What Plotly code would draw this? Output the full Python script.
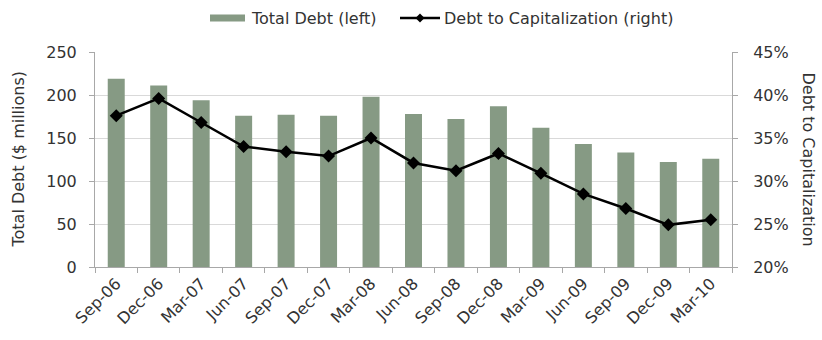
import plotly.graph_objects as go

quarters = ["Sep-06", "Dec-06", "Mar-07", "Jun-07", "Sep-07", "Dec-07", "Mar-08", "Jun-08",
            "Sep-08", "Dec-08", "Mar-09", "Jun-09", "Sep-09", "Dec-09", "Mar-10"]
total_debt = [219, 211, 194, 176, 177, 176, 198, 178, 172, 187, 162, 143, 133, 122, 126]
debt_to_cap = [37.6, 39.6, 36.8, 34.0, 33.4, 32.9, 35.0, 32.1, 31.2, 33.2, 30.9, 28.5, 26.8, 24.9, 25.5]

left_ticks = [0, 50, 100, 150, 200, 250]
right_ticks = [20, 25, 30, 35, 40, 45]
right_labels = [f"{v}%" for v in right_ticks]

font = "DejaVu Sans, Liberation Sans, Arial, sans-serif"
txt = "#333333"
bar_color = "#869a84"

W, H = 822, 340
L, R, T, B = 95, 90, 52, 73
pw, ph = W - L - R, H - T - B


def px(x):
    return (x - L) / pw


def py(y):
    return (H - B - y) / ph


fig = go.Figure()
fig.add_trace(go.Bar(x=quarters, y=total_debt, name="Total Debt (left)",
                     marker=dict(color=bar_color, line=dict(width=0)), yaxis="y",
                     showlegend=False))
fig.add_trace(go.Scatter(x=quarters, y=debt_to_cap, name="Debt to Capitalization (right)",
                         mode="lines+markers", yaxis="y2", showlegend=False,
                         line=dict(color="#000000", width=2.5),
                         marker=dict(symbol="diamond", size=10, color="#000000")))

# manual legend (layout decoration)
ly = 18
shapes = [
    dict(type="rect", xref="paper", yref="paper", x0=px(210), x1=px(245), y0=py(ly + 3.5), y1=py(ly - 3.5),
         fillcolor=bar_color, line=dict(width=0)),
    dict(type="line", xref="paper", yref="paper", x0=px(400), x1=px(440), y0=py(ly), y1=py(ly),
         line=dict(color="#000000", width=2.5)),
    dict(type="path", xref="paper", yref="paper",
         path=f"M {px(415.5)} {py(ly)} L {px(420)} {py(ly - 4.5)} L {px(424.5)} {py(ly)} L {px(420)} {py(ly + 4.5)} Z",
         fillcolor="#000000", line=dict(width=0)),
]
annotations = [
    dict(text="Total Debt (left)", xref="paper", yref="paper", x=px(249), y=py(ly),
         xanchor="left", yanchor="middle", showarrow=False, font=dict(size=16, color=txt)),
    dict(text="Debt to Capitalization (right)", xref="paper", yref="paper", x=px(442), y=py(ly),
         xanchor="left", yanchor="middle", showarrow=False, font=dict(size=16, color=txt)),
    dict(text="Total Debt ($ millions)", xref="paper", yref="paper", x=0, xshift=-77, y=0.5,
         textangle=-90, showarrow=False, font=dict(size=16, color=txt),
         xanchor="center", yanchor="middle"),
    dict(text="Debt to Capitalization", xref="paper", yref="paper", x=1.0, xshift=76, y=0.5,
         textangle=90, showarrow=False, font=dict(size=16, color=txt),
         xanchor="center", yanchor="middle"),
]

axis_line = "#a8a8a8"
fig.update_layout(
    width=W, height=H,
    margin=dict(l=L, r=R, t=T, b=B),
    paper_bgcolor="white", plot_bgcolor="white",
    font=dict(family=font, size=15, color=txt),
    bargap=0.6,
    showlegend=False,
    shapes=shapes,
    annotations=annotations,
    xaxis=dict(type="category", range=[-0.5, len(quarters) - 0.5], tickangle=-45, showgrid=False,
               showline=True, linecolor=axis_line, linewidth=1,
               ticks="outside", tickson="boundaries", ticklen=5, tickcolor=axis_line,
               tickfont=dict(size=16, color=txt)),
    yaxis=dict(range=[0, 250], tickvals=left_ticks, showgrid=True, gridcolor="#d9d9d9",
               showline=True, linecolor=axis_line, linewidth=1,
               ticks="outside", ticklen=5, tickcolor=axis_line, zeroline=False,
               ticklabelstandoff=9,
               tickfont=dict(size=16, color=txt)),
    yaxis2=dict(range=[20, 45], tickvals=right_ticks, ticktext=right_labels, overlaying="y",
                side="right", showgrid=False, showline=True, linecolor=axis_line, linewidth=1,
                ticks="outside", ticklen=5, tickcolor=axis_line, zeroline=False,
                ticklabelstandoff=12,
                tickfont=dict(size=16, color=txt)),
)

fig.write_html("out.html")
